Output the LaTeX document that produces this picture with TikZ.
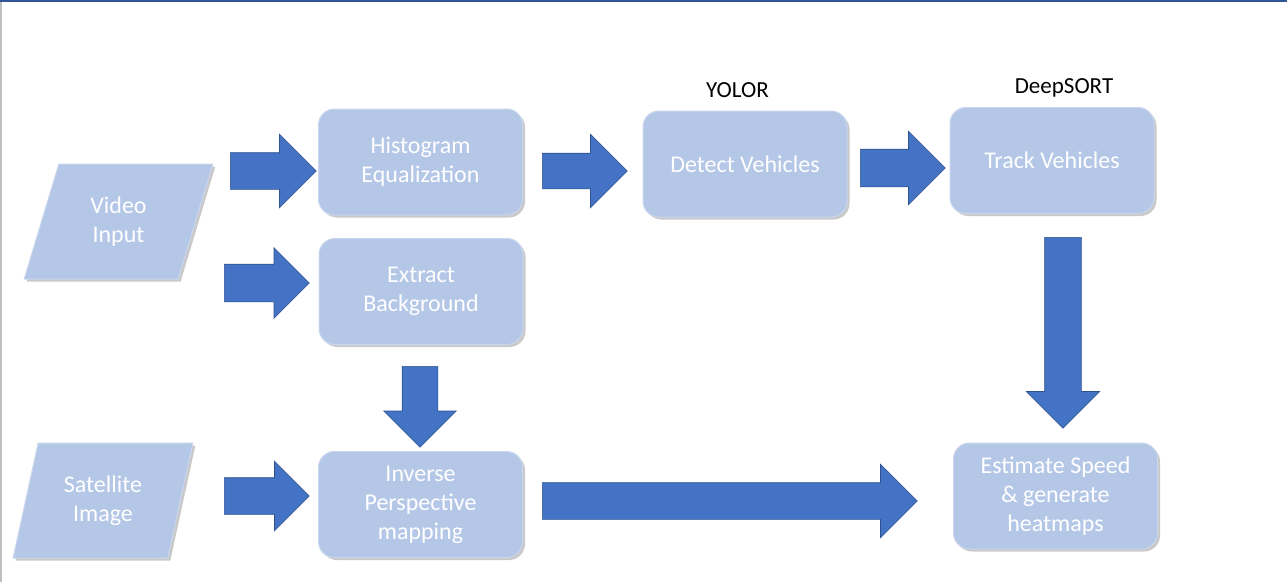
\documentclass[tikz,border=0pt]{standalone}
\usepackage{fontspec}
\setmainfont{Carlito}
\usetikzlibrary{shapes.geometric,shapes.arrows,shadows}
\definecolor{boxfill}{HTML}{B4C7E7}
\definecolor{boxline}{HTML}{C9D6EE}
\definecolor{arrfill}{HTML}{4472C4}
\definecolor{arrline}{HTML}{2F528F}
\definecolor{frametop}{HTML}{2F5597}
\definecolor{frameleft}{HTML}{BFBFBF}
\tikzset{
  shad/.style={drop shadow={shadow xshift=2.5pt,shadow yshift=-2.5pt,opacity=0.35,fill=black!60}},
  procbox/.style={shad,rectangle,rounded corners=16pt,fill=boxfill,draw=boxline,line width=1pt,
    minimum width=204pt,minimum height=106pt,text=white,align=center,
    font=\fontsize{24pt}{29pt}\selectfont,inner sep=0pt},
  iobox/.style={shad,trapezium,trapezium stretches=true,fill=boxfill,draw=boxline,line width=1pt,
    minimum height=115pt,text=white,align=center,
    font=\fontsize{24pt}{29pt}\selectfont,inner sep=0pt},
  blockarrow/.style={single arrow,fill=arrfill,draw=arrline,line width=0.6pt,
    shape border uses incircle=false,single arrow tip angle=90,
    inner xsep=0pt,text height=0pt,text depth=0pt,text width=0pt,anchor=tail},
  toplabel/.style={text=black,font=\fontsize{23pt}{27pt}\selectfont,inner sep=0pt}
}
\begin{document}
\begin{tikzpicture}[x=1pt,y=-1pt]
\useasboundingbox (0,0) rectangle (1287,582);
\fill[white] (0,0) rectangle (1287,582);
\draw[frameleft,line width=1.5pt] (0.75,0) -- (0.75,582);
\draw[frametop,line width=2pt] (0,1) -- (1287,1);

% input parallelograms
\node[iobox,minimum width=189pt,trapezium left angle=71.7,trapezium right angle=108.3] (vid) at (118.5,221.5) {Video\\Input};
\node[iobox,minimum width=180pt,trapezium left angle=73.1,trapezium right angle=106.9] (sat) at (103,500.5) {Satellite\\Image};

% process boxes
\node[procbox] (hist) at (420.5,162) {Histogram\\Equalization};
\node[procbox] (extr) at (421,291.5) {Extract\\Background};
\node[procbox] (inv) at (420.5,504.5) {Inverse\\Perspective\\mapping};
\node[procbox] (det) at (745,164) {Detect Vehicles};
\node[procbox] (trk) at (1052,160.5) {Track Vehicles};
\node[procbox] (est) at (1055.5,496) {Estimate Speed\\\& generate\\heatmaps};

% labels
\node[toplabel] (yolor) at (737.5,90) {YOLOR};
\node[toplabel] (deep) at (1064,88) {DeepSORT};

% block arrows
\node[blockarrow,minimum height=86pt,inner ysep=18pt,single arrow head extend=18.5pt] (a1) at (230,171) {};
\node[blockarrow,minimum height=85pt,inner ysep=18.5pt,single arrow head extend=16.5pt] (a2) at (224,283) {};
\node[blockarrow,minimum height=85pt,inner ysep=17.5pt,single arrow head extend=19pt] (a3) at (542,171) {};
\node[blockarrow,minimum height=85pt,inner ysep=18.5pt,single arrow head extend=18pt] (a4) at (860,168) {};
\node[blockarrow,rotate=-90,minimum height=191pt,inner ysep=18pt,single arrow head extend=18.5pt] (a5) at (1063,237) {};
\node[blockarrow,rotate=-90,minimum height=81pt,inner ysep=17.5pt,single arrow head extend=18.5pt] (a6) at (420,366) {};
\node[blockarrow,minimum height=85pt,inner ysep=18pt,single arrow head extend=16.5pt] (a7) at (224,496) {};
\node[blockarrow,minimum height=375pt,inner ysep=18pt,single arrow head extend=18.5pt] (a8) at (542,501) {};
\end{tikzpicture}
\end{document}
